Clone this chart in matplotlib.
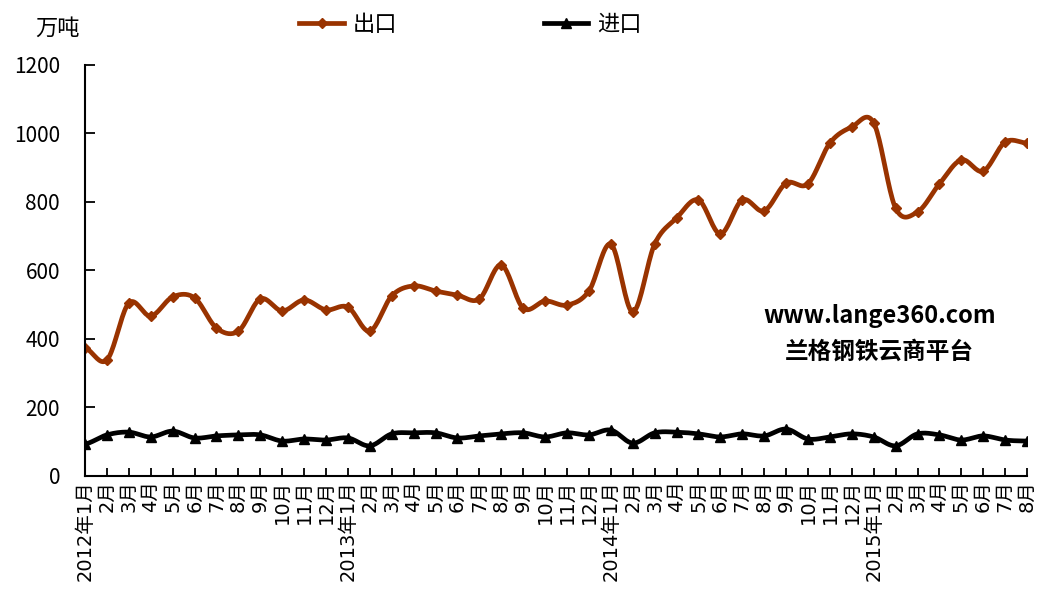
import numpy as np
from matplotlib import pyplot as plt

plt.rcParams['font.family'] = ['Noto Sans CJK SC', 'DejaVu Sans']

months = ["2012年1月"] + [f"{m}月" for m in range(2, 13)] \
    + ["2013年1月"] + [f"{m}月" for m in range(2, 13)] \
    + ["2014年1月"] + [f"{m}月" for m in range(2, 13)] \
    + ["2015年1月"] + [f"{m}月" for m in range(2, 9)]

exports = [374, 339, 505, 467, 523, 520, 432, 423, 517, 482, 514, 485,
           493, 423, 526, 555, 540, 528, 517, 616, 490, 511, 499, 540,
           677, 479, 677, 753, 806, 707, 806, 774, 855, 853, 972, 1019,
           1031, 782, 771, 853, 923, 890, 975, 972]
imports = [93, 120, 128, 114, 131, 111, 117, 120, 120, 102, 108, 105,
           111, 88, 123, 126, 126, 111, 117, 123, 126, 114, 126, 120,
           134, 96, 126, 128, 123, 114, 123, 117, 137, 108, 114, 123,
           114, 88, 123, 120, 105, 117, 105, 102]


def smooth(y, n=20):
    # Excel-style smoothed line (Bezier through the points)
    y = np.asarray(y, float)
    p = np.concatenate([[y[0]], y, [y[-1]]])
    xs, ys = [], []
    t = np.linspace(0, 1, n, endpoint=False)
    for i in range(len(y) - 1):
        p0, p1, p2, p3 = p[i], p[i + 1], p[i + 2], p[i + 3]
        c1 = p1 + (p2 - p0) / 6
        c2 = p2 - (p3 - p1) / 6
        seg = (1 - t) ** 3 * p1 + 3 * (1 - t) ** 2 * t * c1 + 3 * (1 - t) * t ** 2 * c2 + t ** 3 * p2
        xs.extend(i + t)
        ys.extend(seg)
    xs.append(len(y) - 1)
    ys.append(y[-1])
    return np.array(xs), np.array(ys)


fig = plt.figure(figsize=(10.41, 6.13), dpi=100)
ax = fig.add_axes([0.0817, 0.2235, 0.9049, 0.6705])

x = np.arange(len(months))
brown = "#993300"

sx, sy = smooth(exports)
ax.plot(sx, sy, color=brown, lw=3.4, solid_capstyle="round")
ax.plot(x, exports, ls="none", marker="D", ms=5, color=brown)
ax.plot([], [], color=brown, lw=3.4, marker="D", ms=5, label="出口")

sx, sy = smooth(imports)
ax.plot(sx, sy, color="black", lw=3.4, solid_capstyle="round")
ax.plot(x, imports, ls="none", marker="^", ms=7.5, color="black")
ax.plot([], [], color="black", lw=3.4, marker="^", ms=7.5, label="进口")

ax.set_xlim(0, len(months) - 1)
ax.set_ylim(0, 1200)
ax.set_yticks(range(0, 1201, 200))
ax.set_xticks(x)
ax.set_xticklabels(months, rotation=90, fontsize=14, va="top", ha="center",
                   family=['DejaVu Sans', 'Noto Sans CJK SC'])
ax.tick_params(axis="y", direction="in", length=7, width=1.3, labelsize=15, pad=18)
ax.tick_params(axis="x", direction="in", length=6, width=1.3, pad=3)
for s in ["top", "right"]:
    ax.spines[s].set_visible(False)
for s in ["left", "bottom"]:
    ax.spines[s].set_linewidth(1.5)

fig.text(0.034, 0.954, "万吨", fontsize=16, va="center")
fig.legend(loc="upper center", bbox_to_anchor=(0.452, 1.012), ncol=2, frameon=False,
           fontsize=16, columnspacing=6.6, handlelength=2.0, handletextpad=0.4)

fig.text(0.845, 0.4845, "www.lange360.com", ha="center", va="center",
         fontsize=17, fontweight="bold")
fig.text(0.845, 0.4258, "兰格钢铁云商平台", ha="center", va="center",
         fontsize=17, fontweight="bold")

fig.savefig("out.png", dpi=100)
